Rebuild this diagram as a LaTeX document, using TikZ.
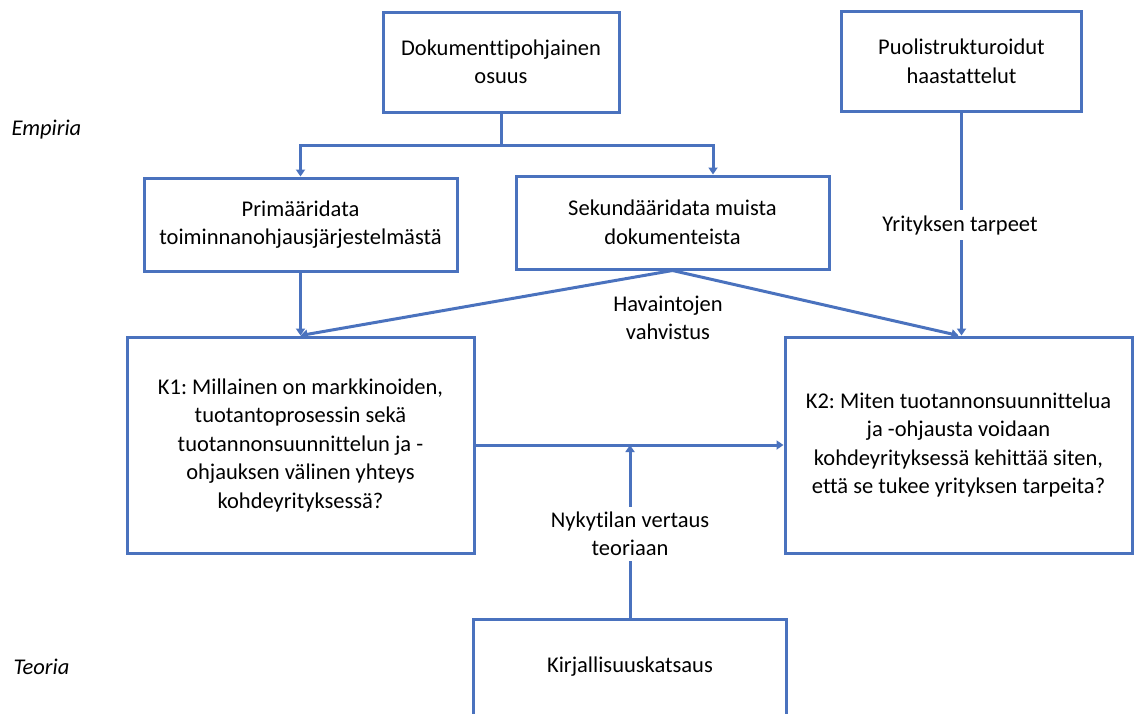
\documentclass[tikz,border=0pt]{standalone}
\usepackage{fontspec}
\setmainfont{Carlito}[Ligatures=NoCommon]
\frenchspacing
\usetikzlibrary{arrows.meta}
\definecolor{obox}{RGB}{74,114,190}
\tikzset{
  boxnode/.style={draw=obox, line width=3pt, fill=white, align=center, inner sep=4pt,
    font=\fontsize{22.5}{28.5}\selectfont},
  lbl/.style={align=center, fill=white, inner sep=5pt, font=\fontsize{22.5}{28.5}\selectfont},
  side/.style={anchor=west, font=\fontsize{22.5}{28.5}\selectfont\itshape},
  conn/.style={draw=obox, line width=3pt},
  arr/.style={conn, -{Triangle[length=7pt,width=9pt]}},
}
\begin{document}
\begin{tikzpicture}[x=1pt,y=-1pt]
\clip (0,0) rectangle (1134,713);
\fill[white] (0,0) rectangle (1134,713);

\node[side] (emp) at (8,130) {Empiria};
\node[side] (teo) at (10,667) {Teoria};

\node[boxnode, minimum width=236pt, minimum height=100pt] (dok) at (501,62) {Dokumenttipohjainen\\osuus};
\node[boxnode, minimum width=240pt, minimum height=100pt] (puo) at (961.5,61.5) {Puolistrukturoidut\\haastattelut};
\node[boxnode, minimum width=313pt, minimum height=93pt] (prim) at (300.5,224.5) {Primääridata\\toiminnanohjausjärjestelmästä};
\node[boxnode, minimum width=313pt, minimum height=93pt] (sek) at (672.5,222.5) {Sekundääridata muista\\dokumenteista};
\node[boxnode, minimum width=347pt, minimum height=216pt] (k1) at (300.5,445) {K1: Millainen on markkinoiden,\\tuotantoprosessin sekä\\tuotannonsuunnittelun ja -\\ohjauksen välinen yhteys\\kohdeyrityksessä?};
\node[boxnode, minimum width=347pt, minimum height=216pt] (k2) at (958.5,445) {K2: Miten tuotannonsuunnittelua\\ja -ohjausta voidaan\\kohdeyrityksessä kehittää siten,\\että se tukee yrityksen tarpeita?};
\node[boxnode, minimum width=313pt, minimum height=96pt] (kir) at (630,667) {Kirjallisuuskatsaus};

% split from Dokumenttipohjainen
\coordinate (split) at ([yshift=-32pt]dok.south);
\coordinate (sekin) at ([xshift=40.5pt]sek.north);
\draw[conn] (dok.south) -- (split);
\draw[arr] (split) -| (prim.north);
\draw[arr] (split) -| (sekin);

\draw[arr] (prim.south) -- (k1.north);
\draw[arr] (sek.south) -- (k1.north);
\draw[arr] (sek.south) -- (k2.north);
\node[lbl, fill=none] (hav) at (668,318) {Havaintojen\\vahvistus};

\coordinate (k2in) at (puo.south |- k2.north);
\draw[arr] (puo.south) -- (k2in);
\node[lbl] (yri) at (960,225) {Yrityksen tarpeet};

\draw[arr] (k1.east) -- (k2.west);
\coordinate (join) at (kir.north |- k1.east);
\draw[arr] (kir.north) -- (join);
\node[lbl] (nyk) at (630,534) {Nykytilan vertaus\\teoriaan};
\end{tikzpicture}
\end{document}
